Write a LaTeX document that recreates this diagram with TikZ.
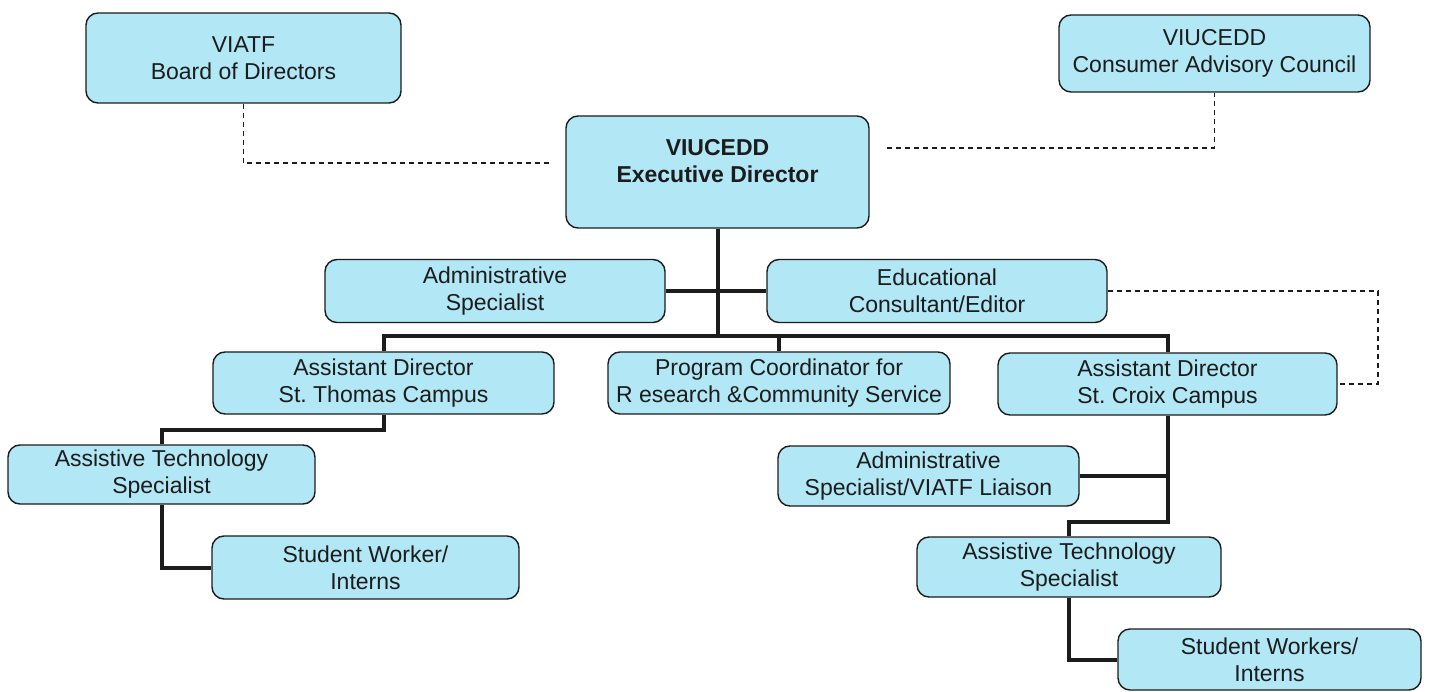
\documentclass[tikz,border=0pt]{standalone}
\usepackage{fontspec}
\setmainfont{Liberation Sans}
\frenchspacing
\definecolor{boxfill}{RGB}{178,231,245}
\definecolor{ink}{RGB}{28,28,28}
\begin{document}
\begin{tikzpicture}[x=1pt,y=-1pt,
  box/.style={draw=ink, line width=1.4pt, fill=boxfill, rounded corners=12pt,
    align=center, inner sep=0pt, text=ink,
    font=\fontsize{23}{27}\selectfont},
  solidline/.style={draw=ink, line width=4pt},
  dashline/.style={draw=ink, line width=1.4pt, dash pattern=on 5pt off 4pt}]
\useasboundingbox (0,0) rectangle (1429,692);
\fill[white] (0,0) rectangle (1429,692);
% boxes
\node[box, minimum width=315pt, minimum height=90pt] (viatf) at (243.5,58) {VIATF\\Board of Directors};
\node[box, minimum width=311pt, minimum height=77pt] (cac) at (1214.5,53.5) {VIUCEDD\\Consumer Advisory Council};
\node[box, minimum width=303pt, minimum height=112pt] (exec) at (717.5,172) {};
\node[align=center, text=ink, font=\fontsize{23}{27}\selectfont\bfseries] (exectext) at (717.5,161) {VIUCEDD\\Executive Director};
\node[box, minimum width=340pt, minimum height=63pt] (adm) at (495,291) {Administrative\\Specialist};
\node[box, minimum width=340pt, minimum height=63pt] (edu) at (937,291) {Educational\\Consultant/Editor};
\node[box, minimum width=341pt, minimum height=62pt] (stt) at (383.5,383) {Assistant Director\\St. Thomas Campus};
\node[box, minimum width=342pt, minimum height=62pt] (prog) at (779,383) {Program Coordinator for\\R esearch \&Community Service};
\node[box, minimum width=339pt, minimum height=62pt] (stc) at (1167.5,384) {Assistant Director\\St. Croix Campus};
\node[box, minimum width=307pt, minimum height=59pt] (atsl) at (161.5,474.5) {Assistive Technology\\Specialist};
\node[box, minimum width=307pt, minimum height=63pt] (swl) at (365.5,567.5) {Student Worker/\\Interns};
\node[box, minimum width=301pt, minimum height=60pt] (lia) at (928.5,476) {Administrative\\Specialist/VIATF Liaison};
\node[box, minimum width=304pt, minimum height=60pt] (atsr) at (1069,567) {Assistive Technology\\Specialist};
\node[box, minimum width=303pt, minimum height=61pt] (swr) at (1269.5,659.5) {Student Workers/\\Interns};
% helper coordinates
\coordinate (bus) at (0,336);
\coordinate (j1) at (0,430);
\coordinate (j2) at (0,522);
\coordinate (d1) at (549,163);
\coordinate (d2) at (887,148);
\coordinate (d3) at (1378,291);
% solid connectors
\draw[solidline] (exec.south) -- (exec.south |- bus);
\draw[solidline] (adm.east) -- (adm.east -| edu.west);
\draw[solidline] (stt.north) -- (stt.north |- bus) -- (stc.north |- bus) -- (stc.north);
\draw[solidline] (prog.north) -- (prog.north |- bus);
\draw[solidline] (stt.south) -- (stt.south |- j1) -- (atsl.north |- j1) -- (atsl.north);
\draw[solidline] (atsl.south) |- (swl.west);
\draw[solidline] (stc.south) -- (stc.south |- j2) -- (atsr.north |- j2) -- (atsr.north);
\draw[solidline] (lia.east) -- (lia.east -| stc.south);
\draw[solidline] (atsr.south) |- (swr.west);
% dashed connectors
\draw[dashline] (viatf.south) |- (d1);
\draw[dashline] (d2) -| (cac.south);
\draw[dashline] (edu.east) -- (d3) |- (stc.east);
\end{tikzpicture}
\end{document}
